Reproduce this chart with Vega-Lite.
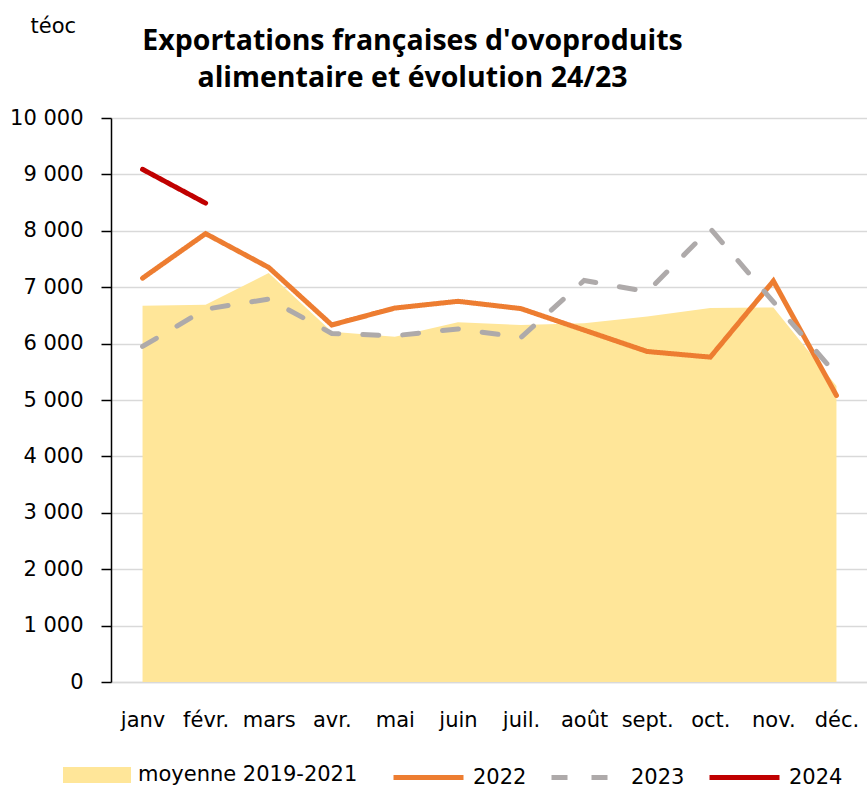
{
  "$schema": "https://vega.github.io/schema/vega-lite/v6.json",
  "width": 757,
  "height": 564,
  "autosize": {"type": "none"},
  "padding": {"left": 111, "top": 118, "right": 0, "bottom": 106},
  "background": "white",
  "config": {
    "font": "DejaVu Sans",
    "view": {"stroke": null},
    "locale": {"number": {"decimal": ",", "thousands": " ", "grouping": [3], "currency": ["", " €"]}}
  },
  "title": {
    "text": ["Exportations françaises d'ovoproduits", "alimentaire et évolution 24/23"],
    "font": "Open Sans",
    "fontSize": 28.5,
    "fontWeight": "bold",
    "color": "#000000",
    "anchor": "middle",
    "dx": -77,
    "dy": 77,
    "offset": 0,
    "lineHeight": 37
  },
  "data": {
    "values": [
      {"mois": "janv", "serie": "moyenne 2019-2021", "valeur": 6670},
      {"mois": "févr.", "serie": "moyenne 2019-2021", "valeur": 6690},
      {"mois": "mars", "serie": "moyenne 2019-2021", "valeur": 7250},
      {"mois": "avr.", "serie": "moyenne 2019-2021", "valeur": 6210},
      {"mois": "mai", "serie": "moyenne 2019-2021", "valeur": 6120},
      {"mois": "juin", "serie": "moyenne 2019-2021", "valeur": 6380},
      {"mois": "juil.", "serie": "moyenne 2019-2021", "valeur": 6330},
      {"mois": "août", "serie": "moyenne 2019-2021", "valeur": 6360},
      {"mois": "sept.", "serie": "moyenne 2019-2021", "valeur": 6480},
      {"mois": "oct.", "serie": "moyenne 2019-2021", "valeur": 6630},
      {"mois": "nov.", "serie": "moyenne 2019-2021", "valeur": 6640},
      {"mois": "déc.", "serie": "moyenne 2019-2021", "valeur": 5250},
      {"mois": "janv", "serie": "2022", "valeur": 7160},
      {"mois": "févr.", "serie": "2022", "valeur": 7950},
      {"mois": "mars", "serie": "2022", "valeur": 7350},
      {"mois": "avr.", "serie": "2022", "valeur": 6330},
      {"mois": "mai", "serie": "2022", "valeur": 6630},
      {"mois": "juin", "serie": "2022", "valeur": 6750},
      {"mois": "juil.", "serie": "2022", "valeur": 6620},
      {"mois": "août", "serie": "2022", "valeur": 6240},
      {"mois": "sept.", "serie": "2022", "valeur": 5860},
      {"mois": "oct.", "serie": "2022", "valeur": 5760},
      {"mois": "nov.", "serie": "2022", "valeur": 7110},
      {"mois": "déc.", "serie": "2022", "valeur": 5080},
      {"mois": "janv", "serie": "2023", "valeur": 5950},
      {"mois": "févr.", "serie": "2023", "valeur": 6610},
      {"mois": "mars", "serie": "2023", "valeur": 6790},
      {"mois": "avr.", "serie": "2023", "valeur": 6180},
      {"mois": "mai", "serie": "2023", "valeur": 6140},
      {"mois": "juin", "serie": "2023", "valeur": 6260},
      {"mois": "juil.", "serie": "2023", "valeur": 6110},
      {"mois": "août", "serie": "2023", "valeur": 7120},
      {"mois": "sept.", "serie": "2023", "valeur": 6920},
      {"mois": "oct.", "serie": "2023", "valeur": 8040},
      {"mois": "nov.", "serie": "2023", "valeur": 6740},
      {"mois": "déc.", "serie": "2023", "valeur": 5450},
      {"mois": "janv", "serie": "2024", "valeur": 9090},
      {"mois": "févr.", "serie": "2024", "valeur": 8490}
    ]
  },
  "encoding": {
    "x": {
      "field": "mois",
      "type": "ordinal",
      "sort": ["janv", "févr.", "mars", "avr.", "mai", "juin", "juil.", "août", "sept.", "oct.", "nov.", "déc."],
      "scale": {"type": "point", "padding": 0.5},
      "axis": {
        "title": null,
        "labelAngle": 0,
        "ticks": false,
        "grid": false,
        "domainColor": "#d9d9d9",
        "domainWidth": 1.5,
        "labelFontSize": 21,
        "labelColor": "#000000",
        "labelPadding": 27
      }
    },
    "y": {
      "field": "valeur",
      "type": "quantitative",
      "scale": {"domain": [0, 10000], "nice": false, "zero": true},
      "axis": {
        "values": [0, 1000, 2000, 3000, 4000, 5000, 6000, 7000, 8000, 9000, 10000],
        "format": ",d",
        "title": "téoc",
        "titleAngle": 0,
        "titleAlign": "left",
        "titleBaseline": "alphabetic",
        "titleX": -81,
        "titleY": -86,
        "titleFontSize": 21,
        "titleFontWeight": "normal",
        "titleColor": "#000000",
        "domainColor": "#000000",
        "domainWidth": 1.5,
        "tickColor": "#000000",
        "tickWidth": 1.5,
        "tickSize": 10,
        "labelFontSize": 21,
        "labelColor": "#000000",
        "labelPadding": 18,
        "gridColor": "#d9d9d9",
        "gridWidth": 1.5
      }
    }
  },
  "layer": [
    {
      "transform": [{"filter": "datum.serie === 'moyenne 2019-2021'"}],
      "mark": {"type": "area", "opacity": 1, "interpolate": "linear"},
      "encoding": {
        "fill": {
          "field": "serie",
          "type": "nominal",
          "scale": {"domain": ["moyenne 2019-2021"], "range": ["#FFE699"]},
          "legend": {
            "title": null,
            "orient": "none",
            "direction": "horizontal",
            "legendX": -48,
            "legendY": 623,
            "symbolType": "M-1,-0.235H1V0.235H-1Z",
            "symbolSize": 4624,
            "symbolStrokeWidth": 0,
            "symbolOpacity": 1,
            "labelFontSize": 21,
            "labelColor": "#000000",
            "labelOffset": 7,
            "labelLimit": 400
          }
        }
      }
    },
    {
      "transform": [{"filter": "datum.serie !== 'moyenne 2019-2021'"}],
      "mark": {"type": "line", "strokeWidth": 5, "strokeCap": "round"},
      "encoding": {
        "stroke": {
          "field": "serie",
          "type": "nominal",
          "scale": {"domain": ["2022", "2023", "2024"], "range": ["#ED7D31", "#AEAAAA", "#C00000"]},
          "legend": {
            "title": null,
            "orient": "none",
            "direction": "horizontal",
            "legendX": 280,
            "legendY": 622,
            "symbolType": "stroke",
            "symbolSize": 4900,
            "symbolStrokeWidth": 5,
            "labelFontSize": 21,
            "labelColor": "#000000",
            "labelOffset": 7,
            "labelLimit": 200,
            "columnPadding": 14,
            "gridAlign": "none"
          }
        },
        "strokeDash": {
          "field": "serie",
          "type": "nominal",
          "scale": {"domain": ["2022", "2023", "2024"], "range": [[1, 0], [16, 24], [1, 0]]},
          "legend": {
            "title": null,
            "orient": "none",
            "direction": "horizontal",
            "legendX": 280,
            "legendY": 622,
            "symbolType": "stroke",
            "symbolSize": 4900,
            "symbolStrokeWidth": 5,
            "labelFontSize": 21,
            "labelColor": "#000000",
            "labelOffset": 7,
            "labelLimit": 200,
            "columnPadding": 14,
            "gridAlign": "none"
          }
        }
      }
    }
  ]
}
